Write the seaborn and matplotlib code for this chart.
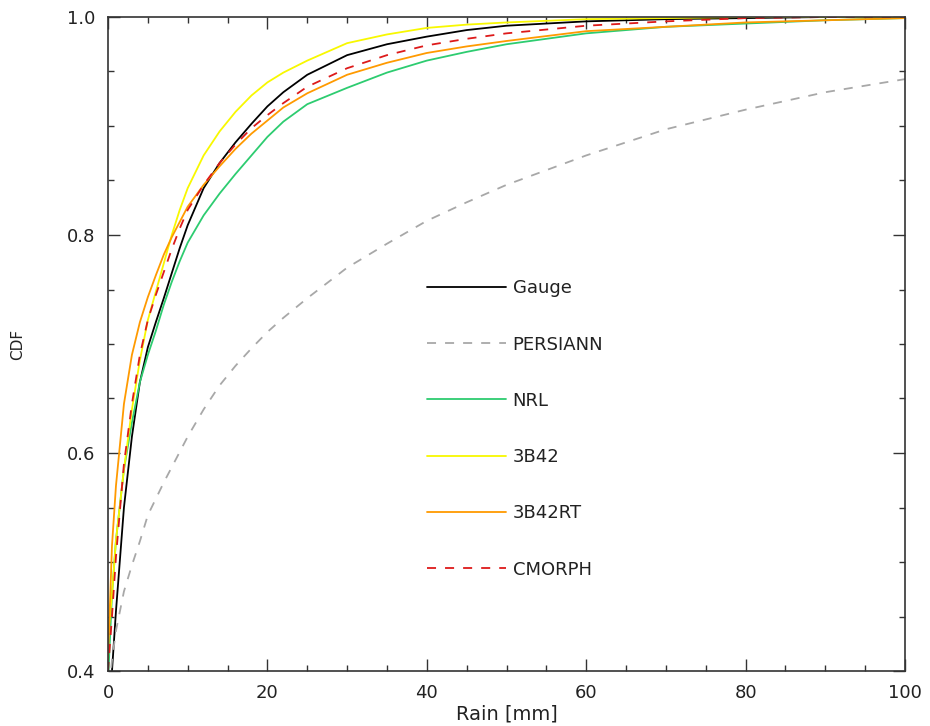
import numpy as np
import pandas as pd
import matplotlib
matplotlib.use("Agg")
import matplotlib.pyplot as plt
import seaborn as sns
from matplotlib.ticker import MultipleLocator

# rain amount grid (mm) and CDF values
rain = [0, 0.5, 1, 2, 3, 4, 5, 6, 7, 8, 9, 10, 12, 14, 16, 18, 20, 22, 25,
        30, 35, 40, 45, 50, 60, 70, 80, 90, 100]

gauge = [0.37, 0.40, 0.455, 0.55, 0.615, 0.665, 0.697, 0.72, 0.742, 0.765, 0.788, 0.809, 0.843, 0.866,
         0.885, 0.902, 0.918, 0.931, 0.947, 0.965, 0.975, 0.982, 0.988, 0.992, 0.996, 0.998, 0.999,
         1.0, 1.0]
persiann = [0.37, 0.41, 0.437, 0.473, 0.497, 0.519, 0.543, 0.558, 0.573, 0.587, 0.601, 0.615, 0.640,
            0.662, 0.680, 0.696, 0.711, 0.724, 0.742, 0.770, 0.792, 0.813, 0.830, 0.846, 0.873, 0.897,
            0.915, 0.931, 0.943]
nrl = [0.39, 0.47, 0.52, 0.585, 0.628, 0.665, 0.69, 0.712, 0.736, 0.757, 0.776, 0.793, 0.818, 0.838,
       0.856, 0.873, 0.89, 0.904, 0.92, 0.935, 0.949, 0.960, 0.968, 0.975, 0.985, 0.991, 0.994,
       0.997, 0.999]
b42 = [0.43, 0.47, 0.52, 0.585, 0.64, 0.685, 0.722, 0.748, 0.774, 0.80, 0.823, 0.843, 0.873, 0.895,
       0.913, 0.928, 0.94, 0.949, 0.96, 0.976, 0.984, 0.99, 0.993, 0.995, 0.998, 0.999, 1.0, 1.0, 1.0]
b42rt = [0.41, 0.515, 0.57, 0.645, 0.69, 0.72, 0.743, 0.763, 0.782, 0.798, 0.812, 0.826, 0.846, 0.863,
         0.879, 0.893, 0.905, 0.917, 0.93, 0.947, 0.958, 0.967, 0.973, 0.978, 0.987, 0.991, 0.995,
         0.997, 0.999]
cmorph = [0.40, 0.45, 0.505, 0.59, 0.645, 0.69, 0.722, 0.745, 0.766, 0.787, 0.806, 0.823, 0.846, 0.866,
          0.883, 0.898, 0.91, 0.921, 0.936, 0.953, 0.965, 0.974, 0.98, 0.985, 0.992, 0.996, 0.999,
          1.0, 1.0]

names = ['Gauge', 'PERSIANN', 'NRL', '3B42', '3B42RT', 'CMORPH']
series = [gauge, persiann, nrl, b42, b42rt, cmorph]
cores = ['black', '#a8a8a8', '#2dcc70', '#f8f800', '#ff9a00', '#dd1a1a']
estilos = ['-', (0, (5, 5)), '-', '-', '-', (0, (5, 5))]

sns.set_style("ticks")
plt.rcParams['font.family'] = ['DejaVu Sans']

fig = plt.figure(figsize=(9.3, 7.26), dpi=100)
ax = fig.add_axes([108 / 930, 1 - 671 / 726, 797 / 930, 654 / 726])

for nome, vals, cor, ls in zip(names, series, cores, estilos):
    sns.lineplot(x=rain, y=vals, color=cor, linestyle=ls, linewidth=1.3, label=nome, ax=ax)

ax.set_xlim(0, 100)
ax.set_ylim(0.4, 1.0)
ax.xaxis.set_major_locator(MultipleLocator(20))
ax.xaxis.set_minor_locator(MultipleLocator(5))
ax.yaxis.set_major_locator(MultipleLocator(0.2))
ax.yaxis.set_minor_locator(MultipleLocator(0.05))
ax.set_xticklabels([f"{int(v)}" for v in ax.get_xticks()])
ax.set_yticklabels([f"{v:.1f}" for v in ax.get_yticks()])
ax.tick_params(which='both', direction='in', top=True, right=True, width=1.0, color='#333333',
               labelsize=13, labelcolor='#222222')
ax.tick_params(which='major', length=8.6, pad=9)
ax.tick_params(which='minor', length=4.3)
for s in ax.spines.values():
    s.set_linewidth(1.2)
    s.set_color('#333333')

ax.set_xlabel('Rain [mm]', fontsize=14, labelpad=2, color='#222222')
ax.set_ylabel('CDF', fontsize=11, labelpad=30, color='#222222')

leg = ax.legend(loc='upper left', bbox_to_anchor=(0.40, 0.599), frameon=False, fontsize=13,
                handlelength=4.4, handletextpad=0.35, labelspacing=2.12, borderpad=0,
                borderaxespad=0)
for t in leg.get_texts():
    t.set_color('#222222')

fig.savefig('out.png', dpi=100)
